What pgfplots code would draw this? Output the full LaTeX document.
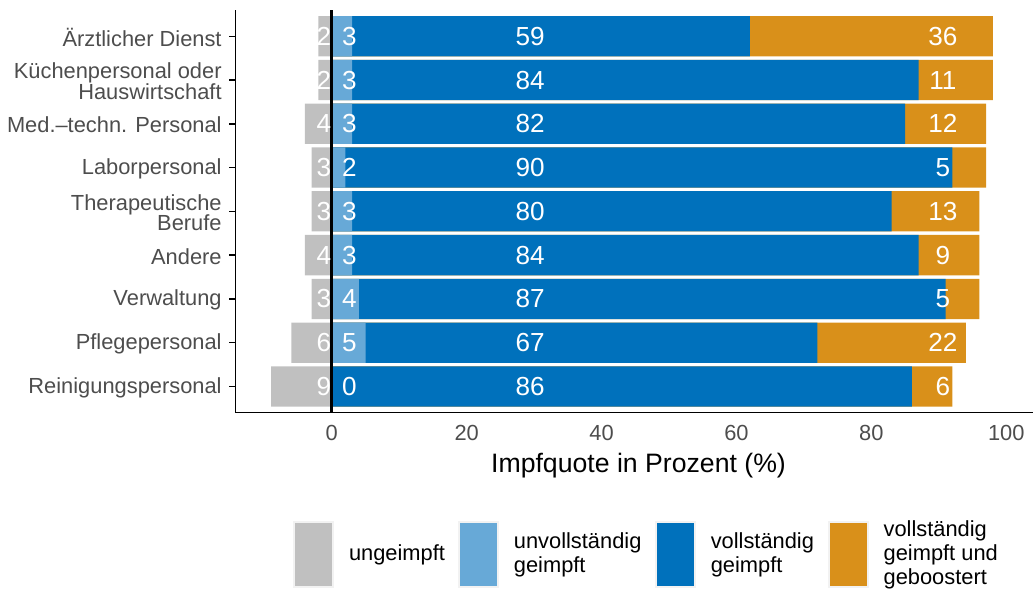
\documentclass[border=0pt]{standalone}
\usepackage{fontspec}
\setmainfont{Liberation Sans}
\usepackage{pgfplots}
\usepackage{pgfplotstable}
\pgfplotsset{compat=1.18}
\definecolor{cung}{HTML}{C0C0C0}
\definecolor{cunv}{HTML}{67A9D7}
\definecolor{cvoll}{HTML}{0071BC}
\definecolor{cboost}{HTML}{D9901A}
\definecolor{tickgrey}{HTML}{4D4D4D}
\definecolor{keybg}{HTML}{F2F2F2}
\newcommand\ticksize{\fontsize{16.4}{15.5}\selectfont}
\newcommand\legsize{\fontsize{16.4}{18}\selectfont}
\newcommand\barfont{\fontsize{19.6}{20}\selectfont}
\newcommand\titlesize{\fontsize{20}{22}\selectfont}
\pgfplotstableread{
y ung unv voll boost
9 2 3 59 36
8 2 3 84 11
7 4 3 82 12
6 3 2 90 5
5 3 3 80 13
4 4 3 84 9
3 3 4 87 5
2 6 5 67 22
1 9 0 86 6
}\data
\tikzset{
  lblE/.style={anchor=east, inner sep=0pt, text=white, font=\barfont},
  lblC/.style={anchor=center, inner sep=0pt, text=white, font=\barfont},
}
\begin{document}
\begin{tikzpicture}
\begin{scope}[x=0.75pt,y=0.75pt]
\useasboundingbox (0,0) rectangle (1034,590);
\end{scope}
\begin{axis}[
  at={(176.625pt,132.75pt)}, anchor=south west,
  width=598.875pt, height=302.25pt, scale only axis,
  xmin=-14.3, xmax=104, ymin=0.4, ymax=9.6,
  axis x line*=bottom, axis y line*=left,
  axis line style={line width=1.1pt, black},
  xtick={0,20,40,60,80,100},
  ytick={1,...,9},
  yticklabels={Reinigungspersonal,Pflegepersonal,Verwaltung,Andere,{Therapeutische\\Berufe},Laborpersonal,{Med.–techn. Personal},{Küchenpersonal oder\\Hauswirtschaft},Ärztlicher Dienst},
  tick align=outside,
  xtick style={draw=none},
  ytick style={line width=1.1pt, black},
  major tick length=4.5pt,
  ticklabel style={font=\ticksize, text=tickgrey},
  yticklabel style={align=right, inner sep=0pt, xshift=-5.6pt, yshift=-1pt},
  xticklabel style={inner sep=0pt, yshift=-4.5pt},
  /pgf/number format/assume math mode=true,
  xlabel={Impfquote in Prozent (\%)},
  xlabel style={at={(axis description cs:0.5053,0)}, anchor=center, yshift=-39.75pt, font=\titlesize, inner sep=0pt},
]
\addplot[xbar, bar shift=0pt, bar width=0.92, draw=none, fill=cboost] table[x expr=\thisrow{unv}+\thisrow{voll}+\thisrow{boost}, y=y] {\data};
\addplot[xbar, bar shift=0pt, bar width=0.92, draw=none, fill=cvoll] table[x expr=\thisrow{unv}+\thisrow{voll}, y=y] {\data};
\addplot[xbar, bar shift=0pt, bar width=0.92, draw=none, fill=cunv] table[x=unv, y=y] {\data};
\addplot[xbar, bar shift=0pt, bar width=0.92, draw=none, fill=cung] table[x expr=-\thisrow{ung}, y=y] {\data};
\addplot[black, line width=2pt] coordinates {(0,0.4) (0,9.6)};
\pgfplotsinvokeforeach{0,...,8}{
  \pgfplotstablegetelem{#1}{y}\of\data \let\yy\pgfplotsretval
  \pgfplotstablegetelem{#1}{ung}\of\data \let\va\pgfplotsretval
  \pgfplotstablegetelem{#1}{unv}\of\data \let\vb\pgfplotsretval
  \pgfplotstablegetelem{#1}{voll}\of\data \let\vc\pgfplotsretval
  \pgfplotstablegetelem{#1}{boost}\of\data \let\vd\pgfplotsretval
  \edef\tmp{%
    \noexpand\node[lblE] at (axis cs:-0.05,\yy) {\va};
    \noexpand\node[lblC] at (axis cs:2.6,\yy) {\vb};
    \noexpand\node[lblC] at (axis cs:29.4,\yy) {\vc};
    \noexpand\node[lblC] at (axis cs:90.6,\yy) {\vd};
  }\tmp
}
\end{axis}
\begin{scope}[x=0.75pt,y=0.75pt]
\foreach \kx/\col in {293/cung,458/cunv,655/cvoll,829/cboost}{
  \fill[keybg] (\kx,2) rectangle (\kx+41,69);
  \fill[\col] (\kx+2,4) rectangle (\kx+39,67);
}
\node[anchor=west, inner sep=0pt, font=\legsize, align=left] at (349,35) {ungeimpft};
\node[anchor=west, inner sep=0pt, font=\legsize, align=left] at (514,35) {unvollständig\\geimpft};
\node[anchor=west, inner sep=0pt, font=\legsize, align=left] at (711,35) {vollständig\\geimpft};
\node[anchor=west, inner sep=0pt, font=\legsize, align=left] at (884,35) {vollständig\\geimpft und\\geboostert};
\end{scope}
\end{tikzpicture}
\end{document}
